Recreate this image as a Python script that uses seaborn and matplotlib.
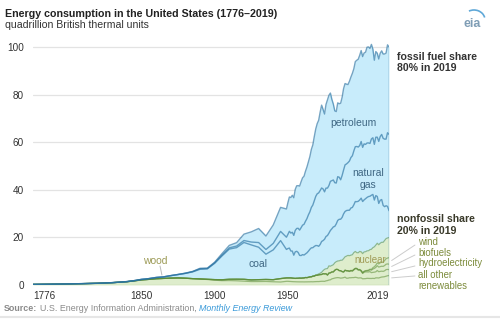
import matplotlib
matplotlib.use("Agg")
import numpy as np
import pandas as pd
import matplotlib.pyplot as plt
import seaborn as sns
from matplotlib.patches import Arc

# ---------------- data (quadrillion Btu) ----------------
years_early = [1776, 1785, 1795, 1800, 1805, 1810, 1815, 1820, 1825, 1830, 1835,
               1840, 1845, 1850, 1855, 1860, 1865, 1870, 1875, 1880, 1885, 1890,
               1895, 1900, 1905, 1910, 1915, 1920, 1925, 1930, 1935, 1940, 1945]
years_annual = list(range(1949, 2020))

other_early = [0.25, 0.31, 0.40, 0.45, 0.52, 0.58, 0.65, 0.72, 0.84, 0.98, 1.17,
               1.38, 1.72, 2.14, 2.36, 2.64, 2.77, 2.89, 2.97, 2.85, 2.68, 2.52,
               2.31, 2.02, 1.83, 1.86, 1.77, 1.61, 1.45, 1.46, 1.50, 1.36, 1.26]
hydro_early = [0, 0, 0, 0, 0, 0, 0, 0, 0, 0, 0, 0, 0, 0, 0, 0, 0, 0, 0, 0, 0,
               0.02, 0.09, 0.25, 0.39, 0.54, 0.66, 0.78, 0.70, 0.79, 0.83, 0.88, 1.44]
biofuels_early = [0] * 33
wind_early = [0] * 33
nuclear_early = [0] * 33
coal_early = [0, 0, 0, 0, 0, 0, 0, 0, 0, 0.01, 0.02, 0.05, 0.11, 0.22, 0.32, 0.52,
              0.63, 1.05, 1.44, 2.05, 2.84, 4.06, 4.39, 6.84, 10.0, 12.71, 13.29,
              15.50, 14.71, 13.64, 10.63, 12.54, 15.97]
gas_early = [0, 0, 0, 0, 0, 0, 0, 0, 0, 0, 0, 0, 0, 0, 0, 0, 0, 0, 0, 0,
             0.14, 0.26, 0.15, 0.25, 0.37, 0.54, 0.67, 0.82, 1.21, 1.97, 1.97, 2.73, 3.87]
petroleum_early = [0, 0, 0, 0, 0, 0, 0, 0, 0, 0, 0, 0, 0, 0, 0, 0,
                   0.01, 0.01, 0.02, 0.10, 0.04, 0.16, 0.17, 0.23, 0.61, 1.01, 1.42,
                   2.68, 4.28, 5.90, 5.68, 7.76, 10.11]

other_annual = [1.55, 1.56, 1.51, 1.47, 1.42, 1.39, 1.37, 1.34, 1.33, 1.32, 1.32,
                1.32, 1.30, 1.32, 1.32, 1.34, 1.34, 1.37, 1.34, 1.39, 1.42,
                1.45, 1.44, 1.51, 1.56, 1.57, 1.53, 1.74, 1.86, 2.09, 2.19,
                2.59, 2.74, 2.92, 3.04, 3.11, 3.05, 2.89, 2.96, 3.09, 3.31,
                2.86, 2.87, 3.05, 3.05, 3.12, 3.12, 3.25, 3.13, 2.94, 2.99,
                2.99, 2.61, 2.65, 2.69, 2.81, 2.78, 2.75, 2.74, 2.81, 2.73,
                3.01, 3.00, 2.95, 3.17, 3.35, 3.41, 3.50, 3.69, 3.89, 3.98]
hydro_annual = [1.42, 1.42, 1.47, 1.51, 1.48, 1.44, 1.41, 1.49, 1.52, 1.59, 1.55,
                1.61, 1.66, 1.82, 1.77, 1.89, 2.06, 2.06, 2.35, 2.35, 2.65,
                2.63, 2.82, 2.86, 2.86, 3.18, 3.15, 2.98, 2.33, 2.94, 2.93,
                2.90, 2.76, 3.27, 3.53, 3.39, 2.97, 3.07, 2.63, 2.33, 2.84,
                3.05, 2.99, 2.62, 2.89, 2.68, 3.21, 3.59, 3.64, 3.30, 3.27,
                2.81, 2.24, 2.69, 2.82, 2.69, 2.70, 2.87, 2.45, 2.51, 2.67,
                2.54, 3.10, 2.63, 2.56, 2.47, 2.32, 2.47, 2.77, 2.66, 2.49]
biofuels_annual = [0] * 32 + [
    0.013, 0.019, 0.035, 0.043, 0.052, 0.064, 0.071, 0.068, 0.075,
    0.111, 0.129, 0.145, 0.170, 0.188, 0.200, 0.143, 0.186, 0.202, 0.211,
    0.233, 0.254, 0.308, 0.402, 0.487, 0.577, 0.771, 1.024, 1.404, 1.568,
    1.868, 2.028, 1.941, 2.013, 2.071, 2.101, 2.226, 2.278, 2.310, 2.285]
wind_annual = [0] * 40 + [
    0.022, 0.029, 0.031, 0.030, 0.031, 0.036, 0.033, 0.033, 0.034, 0.031, 0.046,
    0.057, 0.070, 0.105, 0.115, 0.142, 0.178, 0.264, 0.341, 0.546, 0.721,
    0.923, 1.168, 1.340, 1.601, 1.728, 1.777, 2.096, 2.343, 2.482, 2.742]
nuclear_annual = [0, 0, 0, 0, 0, 0, 0, 0, 0, 0.002, 0.002,
                  0.006, 0.02, 0.026, 0.038, 0.04, 0.043, 0.064, 0.088, 0.142, 0.154,
                  0.239, 0.413, 0.584, 0.910, 1.272, 1.900, 2.111, 2.702, 3.024, 2.776,
                  2.739, 3.008, 3.131, 3.203, 3.553, 4.076, 4.380, 4.754, 5.587, 5.602,
                  6.104, 6.422, 6.479, 6.410, 6.694, 7.075, 7.087, 6.597, 7.068, 7.610,
                  7.862, 8.029, 8.145, 7.960, 8.223, 8.161, 8.215, 8.459, 8.426, 8.355,
                  8.434, 8.269, 8.062, 8.244, 8.338, 8.337, 8.427, 8.419, 8.438, 8.452]
coal_annual = [11.98, 12.35, 12.55, 11.31, 11.37, 9.71, 11.17, 11.35, 10.82, 9.53, 9.52,
               9.84, 9.62, 9.91, 10.41, 10.96, 11.58, 12.14, 11.91, 12.33, 12.38,
               12.26, 11.60, 12.08, 12.97, 12.66, 12.66, 13.58, 13.92, 13.77, 15.04,
               15.42, 15.91, 15.32, 15.89, 17.07, 17.48, 17.26, 18.01, 18.85, 19.07,
               19.17, 18.99, 19.12, 19.84, 19.91, 20.09, 21.00, 21.45, 21.66, 21.62,
               22.58, 21.91, 21.90, 22.32, 22.47, 22.80, 22.45, 22.75, 22.39, 19.69,
               20.83, 19.66, 17.38, 18.04, 17.99, 15.55, 14.23, 13.84, 13.28, 11.31]
gas_annual = [5.15, 5.97, 7.05, 7.55, 7.91, 8.33, 9.00, 9.61, 10.19, 10.66, 11.72,
              12.39, 12.93, 13.73, 14.40, 15.29, 15.77, 16.99, 17.94, 19.21, 20.68,
              21.79, 22.47, 22.70, 22.51, 21.73, 19.95, 20.35, 19.93, 20.00, 20.67,
              20.24, 19.74, 18.36, 17.20, 18.39, 17.70, 16.59, 17.64, 18.45, 19.60,
              19.60, 20.03, 20.71, 21.23, 21.73, 22.67, 23.08, 23.22, 22.83, 22.91,
              23.82, 22.77, 23.56, 22.83, 22.91, 22.56, 22.22, 23.66, 23.84, 23.42,
              24.57, 24.95, 26.09, 26.81, 27.38, 28.19, 28.40, 28.03, 31.00, 32.10]
petroleum_annual = [11.88, 13.32, 14.43, 14.96, 15.56, 15.84, 17.25, 17.94, 17.93, 18.53, 19.32,
                    19.92, 20.22, 21.05, 21.70, 22.30, 23.25, 24.40, 25.28, 26.98, 28.34,
                    29.52, 30.56, 32.95, 34.84, 33.45, 32.73, 35.17, 37.12, 37.97, 37.12,
                    34.20, 31.93, 30.23, 30.05, 31.05, 30.92, 32.20, 32.87, 34.22, 34.21,
                    33.55, 32.85, 33.53, 33.84, 34.67, 34.55, 35.76, 36.27, 36.93, 37.96,
                    38.26, 38.19, 38.23, 38.81, 40.29, 40.39, 39.96, 39.77, 37.28, 35.40,
                    36.01, 35.31, 34.67, 35.06, 35.17, 35.48, 35.82, 36.17, 36.95, 36.72]

xtick_years = [1776, 1850, 1900, 1950, 2019]
ytick_values = [0, 20, 40, 60, 80, 100]
legend_labels = ["wind", "biofuels", "hydroelectricity", "all other", "renewables"]

# ---------------- build frame ----------------
years = years_early + years_annual
layers = ["all other renewables", "hydroelectricity", "biofuels", "wind",
          "nuclear", "coal", "natural gas", "petroleum"]
df = pd.DataFrame({
    "all other renewables": other_early + other_annual,
    "hydroelectricity": hydro_early + hydro_annual,
    "biofuels": biofuels_early + biofuels_annual,
    "wind": wind_early + wind_annual,
    "nuclear": nuclear_early + nuclear_annual,
    "coal": coal_early + coal_annual,
    "natural gas": gas_early + gas_annual,
    "petroleum": petroleum_early + petroleum_annual,
}, index=years)
cum = df[layers].cumsum(axis=1)
cum.index.name = "year"
long = cum.reset_index().melt(id_vars="year", var_name="layer", value_name="top")

# ---------------- style ----------------
sns.set_theme(style="white")
plt.rcParams["font.family"] = ["Liberation Sans", "DejaVu Sans"]

W, H = 500, 321
fig = plt.figure(figsize=(W / 100, H / 100), dpi=100)
ax = fig.add_axes([33 / W, (H - 285) / H, 356 / W, 242.5 / H])

green_fill = "#deedcc"
blue_fill = "#c8ecfb"
green_line = "#5b8c35"
blue_line = "#2a73a3"

yrs = np.array(years)
ax.fill_between(yrs, 0, cum["nuclear"].values, color=green_fill, lw=0, zorder=1)
ax.fill_between(yrs, cum["nuclear"].values, cum["petroleum"].values,
                color=blue_fill, lw=0, zorder=1)

green_layers = layers[:5]
blue_layers = layers[5:]
sns.lineplot(data=long[long["layer"].isin(green_layers)], x="year", y="top",
             hue="layer", palette={k: green_line for k in green_layers},
             estimator=None, sort=False, legend=False, ax=ax,
             linewidth=0.9, alpha=0.55, zorder=3)
sns.lineplot(data=long[long["layer"].isin(blue_layers)], x="year", y="top",
             hue="layer", palette={k: blue_line for k in blue_layers},
             estimator=None, sort=False, legend=False, ax=ax,
             linewidth=1.0, alpha=0.65, zorder=4)

total_last = cum["petroleum"].values[-1]
ax.plot([2019, 2019], [0, total_last], color="#5b8fb3", lw=1.0, zorder=5)
ax.axhline(0, color="#7a9e5a", lw=0.8, zorder=2)

ax.set_xlim(1776, 2019)
ax.set_ylim(0, 102)
for s in ax.spines.values():
    s.set_visible(False)
ax.set_xlabel("")
ax.set_ylabel("")
ax.set_xticks(xtick_years)
ax.set_xticklabels([str(y) for y in xtick_years])
ax.set_yticks(ytick_values)
ax.set_yticklabels([str(v) for v in ytick_values])
ax.tick_params(axis="both", length=0, labelsize=7.2, colors="#333333")
ax.tick_params(axis="y", pad=6.5)
ax.tick_params(axis="x", pad=4.5)
xl = ax.get_xticklabels()
xl[0].set_ha("left")
xl[-1].set_ha("right")
ax.yaxis.grid(True, color="#e3e3e3", lw=0.9)
ax.xaxis.grid(False)
ax.set_axisbelow(True)

# ---------------- in-chart labels ----------------
lab_blue = "#3f6783"
ax.text(1994.4, 68.2, "petroleum", fontsize=7.5, color=lab_blue, ha="center", va="center", zorder=6)
ax.text(2004.7, 47.1, "natural", fontsize=7.5, color=lab_blue, ha="center", va="center", zorder=6)
ax.text(2004.7, 42.1, "gas", fontsize=7.5, color=lab_blue, ha="center", va="center", zorder=6)
ax.text(1929.6, 8.8, "coal", fontsize=7.5, color=lab_blue, ha="center", va="center", zorder=6)
ax.text(1859.3, 10.1, "wood", fontsize=7.5, color="#9c9a55", ha="center", va="center", zorder=6)
ax.plot([1862.7, 1864.0], [8.0, 4.2], color="#bbbbbb", lw=0.7, zorder=6)
ax.text(2006.0, 10.6, "nuclear", fontsize=7, color="#a09a55", ha="center", va="center", zorder=6)

# leader lines for nonfossil legend
leaders = [(16.8, 10.3), (12.6, 7.8), (8.0, 5.6), (3.8, 3.0)]
for y0, y1 in leaders:
    ax.plot([2036.7, 2020.8], [y0, y1], color="#cccccc", lw=0.7, clip_on=False, zorder=6)

# ---------------- figure text ----------------
def px(x, y):
    return x / W, 1 - y / H

fig.text(*px(5, 13.8), "Energy consumption in the United States (1776–2019)",
         fontsize=7.7, fontweight="bold", color="#222222", va="center", ha="left")
fig.text(*px(5, 25.5), "quadrillion British thermal units",
         fontsize=7.6, color="#333333", va="center", ha="left")

fig.text(*px(397, 56.7), "fossil fuel share", fontsize=7.6, fontweight="bold",
         color="#333333", va="center", ha="left")
fig.text(*px(397, 68.2), "80% in 2019", fontsize=7.6, fontweight="bold",
         color="#333333", va="center", ha="left")
fig.text(*px(397, 219), "nonfossil share", fontsize=7.6, fontweight="bold",
         color="#3a3a2a", va="center", ha="left")
fig.text(*px(397, 230.5), "20% in 2019", fontsize=7.6, fontweight="bold",
         color="#3a3a2a", va="center", ha="left")

leg_y = [241.7, 252.7, 263.3, 274.7, 286.0]
for lab, yy in zip(legend_labels, leg_y):
    fig.text(*px(418, yy), lab, fontsize=6.9, color="#7d8c3c", va="center", ha="left")

# source line
renderer = fig.canvas.get_renderer()
t1 = fig.text(*px(4, 311), "Source:", fontsize=6.4, fontweight="bold",
              color="#8a8a8a", va="baseline", ha="left")
x1 = t1.get_window_extent(renderer).x1 / W
t2 = fig.text(x1 + 2.5 / W, 1 - 311 / H, "U.S. Energy Information Administration, ",
              fontsize=6.4, color="#8a8a8a", va="baseline", ha="left")
x2 = t2.get_window_extent(renderer).x1 / W
fig.text(x2, 1 - 311 / H, "Monthly Energy Review", fontsize=6.4, style="italic",
         color="#3a9ad9", va="baseline", ha="left")

# bottom rule
fig.add_artist(plt.Line2D([0, 1], [1 - 317 / H, 1 - 317 / H], transform=fig.transFigure,
                          color="#e6e6e6", lw=1.5))

# logo
fig.text(*px(472, 24), "eia", fontsize=9, color="#7f9db5", ha="center", va="center",
         fontweight="bold")
fig.add_artist(Arc(px(474, 20), 22 / W, 20 / H, theta1=20, theta2=110,
                   transform=fig.transFigure, color="#5fa8d8", lw=1.2))

fig.savefig("out.png", dpi=100)
